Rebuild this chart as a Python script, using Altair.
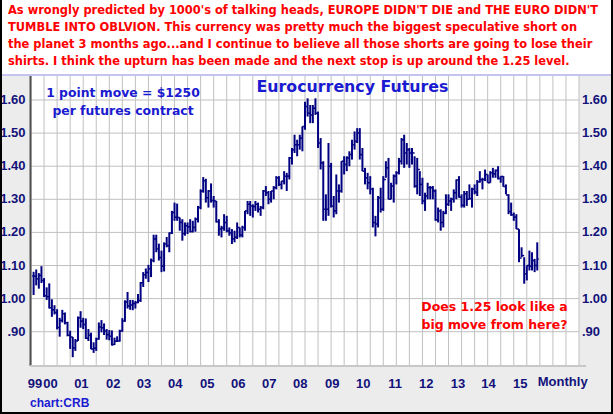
import altair as alt
import pandas as pd

# month index: 0 = Jan 1999 ; first bar = Jul 1999
first_month = 6

highs = [
    1.081, 1.088, 1.077, 1.098, 1.062, 1.034,
    1.046, 0.998, 0.980, 0.968, 0.942, 0.966, 0.958, 0.930, 0.903, 0.884, 0.878, 0.946,
    0.962, 0.942, 0.940, 0.908, 0.897, 0.868, 0.882, 0.928, 0.935, 0.925, 0.908, 0.905,
    0.904, 0.882, 0.886, 0.906, 0.941, 0.995, 1.020, 0.996, 0.996, 0.993, 1.014, 1.050,
    1.080, 1.091, 1.102, 1.121, 1.193, 1.193, 1.166, 1.145, 1.170, 1.186, 1.200, 1.265,
    1.290, 1.287, 1.245, 1.240, 1.230, 1.230, 1.240, 1.235, 1.245, 1.280, 1.330, 1.367,
    1.362, 1.328, 1.348, 1.310, 1.295, 1.240, 1.220, 1.255, 1.250, 1.215, 1.210, 1.205,
    1.230, 1.215, 1.220, 1.265, 1.295, 1.295, 1.285, 1.295, 1.290, 1.280, 1.328, 1.340,
    1.325, 1.325, 1.340, 1.370, 1.370, 1.355, 1.385, 1.380, 1.428, 1.455, 1.495, 1.480,
    1.495, 1.520, 1.595, 1.605, 1.585, 1.585, 1.605, 1.565, 1.485, 1.415, 1.315, 1.470,
    1.410, 1.310, 1.375, 1.345, 1.415, 1.430, 1.430, 1.445, 1.480, 1.505, 1.515, 1.515,
    1.455, 1.395, 1.380, 1.370, 1.335, 1.250, 1.310, 1.335, 1.370, 1.415, 1.425, 1.350,
    1.375, 1.385, 1.425, 1.485, 1.495, 1.470, 1.455, 1.455, 1.430, 1.425, 1.385, 1.365,
    1.320, 1.350, 1.340, 1.340, 1.330, 1.275, 1.270, 1.265, 1.315, 1.315, 1.305, 1.330,
    1.360, 1.370, 1.315, 1.325, 1.325, 1.345, 1.335, 1.345, 1.358, 1.385, 1.365, 1.390,
    1.375, 1.385, 1.395, 1.390, 1.400, 1.370, 1.370, 1.345, 1.315, 1.290, 1.260, 1.255,
    1.210, 1.155, 1.125, 1.100, 1.145, 1.140, 1.120, 1.170,
]
lows = [
    1.011, 1.040, 1.030, 1.047, 1.005, 0.996,
    0.970, 0.945, 0.952, 0.907, 0.885, 0.928, 0.922, 0.886, 0.848, 0.823, 0.842, 0.872,
    0.912, 0.908, 0.878, 0.872, 0.847, 0.836, 0.842, 0.876, 0.898, 0.890, 0.876, 0.874,
    0.858, 0.860, 0.869, 0.870, 0.900, 0.930, 0.970, 0.966, 0.965, 0.970, 0.986, 0.990,
    1.035, 1.060, 1.050, 1.065, 1.110, 1.140, 1.115, 1.080, 1.082, 1.155, 1.140, 1.195,
    1.235, 1.235, 1.205, 1.175, 1.190, 1.195, 1.200, 1.200, 1.202, 1.230, 1.270, 1.320,
    1.290, 1.275, 1.290, 1.275, 1.230, 1.190, 1.185, 1.205, 1.200, 1.190, 1.165, 1.170,
    1.180, 1.185, 1.185, 1.205, 1.255, 1.250, 1.245, 1.265, 1.260, 1.250, 1.270, 1.310,
    1.285, 1.290, 1.300, 1.330, 1.340, 1.330, 1.345, 1.325, 1.360, 1.405, 1.440, 1.430,
    1.450, 1.445, 1.510, 1.550, 1.530, 1.530, 1.555, 1.455, 1.390, 1.235, 1.235, 1.250,
    1.275, 1.245, 1.255, 1.290, 1.320, 1.375, 1.385, 1.400, 1.420, 1.450, 1.470, 1.420,
    1.385, 1.345, 1.330, 1.315, 1.215, 1.188, 1.215, 1.260, 1.265, 1.365, 1.300, 1.300,
    1.290, 1.345, 1.375, 1.405, 1.395, 1.405, 1.395, 1.405, 1.335, 1.315, 1.310, 1.285,
    1.265, 1.300, 1.300, 1.300, 1.235, 1.230, 1.205, 1.215, 1.255, 1.280, 1.265, 1.290,
    1.300, 1.305, 1.275, 1.275, 1.280, 1.300, 1.275, 1.315, 1.310, 1.350, 1.330, 1.355,
    1.350, 1.350, 1.365, 1.365, 1.360, 1.350, 1.338, 1.315, 1.255, 1.250, 1.235, 1.210,
    1.110, 1.125, 1.045, 1.055, 1.085, 1.085, 1.080, 1.085,
]
closes = [
    1.068, 1.060, 1.070, 1.055, 1.009, 1.006,
    0.972, 0.966, 0.958, 0.913, 0.934, 0.954, 0.927, 0.889, 0.884, 0.851, 0.872, 0.942,
    0.932, 0.922, 0.880, 0.889, 0.848, 0.850, 0.878, 0.914, 0.912, 0.902, 0.891, 0.886,
    0.861, 0.871, 0.872, 0.902, 0.932, 0.990, 0.978, 0.981, 0.985, 0.988, 0.994, 1.048,
    1.072, 1.079, 1.090, 1.115, 1.180, 1.150, 1.124, 1.098, 1.165, 1.160, 1.198, 1.260,
    1.246, 1.245, 1.230, 1.197, 1.220, 1.217, 1.203, 1.215, 1.240, 1.275, 1.325, 1.356,
    1.305, 1.325, 1.296, 1.295, 1.232, 1.210, 1.213, 1.230, 1.205, 1.199, 1.180, 1.185,
    1.215, 1.192, 1.215, 1.265, 1.285, 1.280, 1.278, 1.285, 1.270, 1.275, 1.325, 1.320,
    1.300, 1.325, 1.335, 1.365, 1.345, 1.355, 1.370, 1.370, 1.425, 1.450, 1.465, 1.465,
    1.485, 1.520, 1.580, 1.560, 1.555, 1.575, 1.560, 1.470, 1.410, 1.270, 1.270, 1.400,
    1.280, 1.265, 1.325, 1.325, 1.415, 1.405, 1.425, 1.435, 1.465, 1.475, 1.500, 1.435,
    1.385, 1.365, 1.350, 1.330, 1.230, 1.225, 1.305, 1.270, 1.360, 1.395, 1.300, 1.340,
    1.370, 1.380, 1.415, 1.480, 1.440, 1.450, 1.440, 1.440, 1.340, 1.390, 1.345, 1.295,
    1.310, 1.335, 1.335, 1.325, 1.238, 1.265, 1.230, 1.258, 1.285, 1.295, 1.300, 1.320,
    1.358, 1.306, 1.282, 1.317, 1.300, 1.302, 1.330, 1.322, 1.353, 1.359, 1.360, 1.375,
    1.350, 1.380, 1.377, 1.387, 1.363, 1.369, 1.339, 1.313, 1.263, 1.253, 1.246, 1.210,
    1.123, 1.130, 1.075, 1.100, 1.098, 1.115, 1.100, 1.120,
]

y_ticks = [0.90, 1.00, 1.10, 1.20, 1.30, 1.40, 1.50, 1.60]
y_labels = [".90", "1.00", "1.10", "1.20", "1.30", "1.40", "1.50", "1.60"]
x_grid = list(range(5, 216, 5))  # vertical grid every 5 months
x_labels = ["99", "00", "01", "02", "03", "04", "05", "06", "07", "08",
            "09", "10", "11", "12", "13", "14", "15"]
x_label_pos = [6.5, 12.5, 24.3, 36.5, 48.3, 60.3, 72.5, 84.4, 96.3, 108.2,
               120.4, 132.3, 144.5, 156.5, 168.6, 180.3, 192.5]

top_lines = [
    "As wrongly predicted by 1000's of talking heads, EUROPE DIDN'T DIE and THE EURO DIDN'T",
    "TUMBLE INTO OBLVION. This currency was pretty much the biggest speculative short on",
    "the planet 3 months ago...and I continue to believe all those shorts are going to lose their",
    "shirts. I think the upturn has been made and the next stop is up around the 1.25 level.",
]
note_lines = ["1 point move = $1250", "per futures contract"]
question_lines = ["Does 1.25 look like a", "big move from here?"]
title_text = "Eurocurrency Futures"

n = len(highs)
assert len(lows) == n and len(closes) == n
months = [first_month + i for i in range(n)]
opens = [closes[0]] + closes[:-1]
df = pd.DataFrame({"m": months, "high": highs, "low": lows, "close": closes, "open": opens})
df["mr"] = df["m"] + 0.55
df["ml"] = df["m"] - 0.55

FONT = "Liberation Sans"
WIDE = "DejaVu Sans"
NAVY = "#000080"
LABEL = "#12127a"
BLUE = "#1a1ad0"
RED = "#ff0000"
GRID = "#c0c0c0"

xscale = alt.Scale(domain=[5, 215], nice=False, zero=False)
yscale = alt.Scale(domain=[0.7964, 1.6755], nice=False, zero=False)

one = pd.DataFrame({"a": [0]})

vgrid = alt.Chart(pd.DataFrame({"g": x_grid})).mark_rule(color=GRID, strokeWidth=1).encode(
    x=alt.X("g:Q", scale=xscale, axis=None), y=alt.value(0), y2=alt.value(291)
)
hgrid = alt.Chart(pd.DataFrame({"v": y_ticks})).mark_rule(color=GRID, strokeWidth=1).encode(
    y=alt.Y("v:Q", scale=yscale, axis=None), x=alt.value(0), x2=alt.value(548)
)
left_axis = alt.Chart(one).mark_rule(color="#505050", strokeWidth=2).encode(
    x=alt.value(-0.5), y=alt.value(0), y2=alt.value(291)
)
bottom_axis = alt.Chart(one).mark_rule(color="#c8c8c8", strokeWidth=2).encode(
    x=alt.value(-1), x2=alt.value(555), y=alt.value(291)
)

# top white text panel
top_panel = alt.Chart(one).mark_rect(color="white").encode(
    x=alt.value(-31), x2=alt.value(582), y=alt.value(-75), y2=alt.value(0)
)
top_line = alt.Chart(one).mark_rule(color="#c4c4ee", strokeWidth=2).encode(
    x=alt.value(-31), x2=alt.value(582), y=alt.value(0)
)
border_l = alt.Chart(one).mark_rule(color="black", strokeWidth=2).encode(
    x=alt.value(-30), y=alt.value(-75), y2=alt.value(339)
)
border_r = alt.Chart(one).mark_rule(color="black", strokeWidth=2).encode(
    x=alt.value(581), y=alt.value(-75), y2=alt.value(339)
)
border_b = alt.Chart(one).mark_rule(color="black", strokeWidth=2).encode(
    x=alt.value(-31), x2=alt.value(582), y=alt.value(338)
)

bars = alt.Chart(df).mark_rule(color=NAVY, strokeWidth=2).encode(
    x=alt.X("m:Q", scale=xscale, axis=None),
    y=alt.Y("low:Q", scale=yscale, axis=None),
    y2="high:Q",
)
close_ticks = alt.Chart(df).mark_rule(color=NAVY, strokeWidth=1.5).encode(
    x=alt.X("m:Q", axis=None), x2="mr:Q", y=alt.Y("close:Q", axis=None)
)
open_ticks = alt.Chart(df).mark_rule(color=NAVY, strokeWidth=1.5).encode(
    x=alt.X("ml:Q", axis=None), x2="m:Q", y=alt.Y("open:Q", axis=None)
)

ylab_df = pd.DataFrame({"v": y_ticks, "lab": y_labels})
left_labels = alt.Chart(ylab_df).mark_text(
    font=FONT, fontSize=13, fontWeight="bold", color=LABEL, align="right", baseline="middle"
).encode(y=alt.Y("v:Q", axis=None), x=alt.value(-5.5), text="lab:N")
right_labels = alt.Chart(ylab_df).mark_text(
    font=FONT, fontSize=13, fontWeight="bold", color=LABEL, align="left", baseline="middle"
).encode(y=alt.Y("v:Q", axis=None), x=alt.value(551), text="lab:N")

bottom_labels = alt.Chart(pd.DataFrame({"p": x_label_pos, "lab": x_labels})).mark_text(
    font=FONT, fontSize=13, fontWeight="bold", color=LABEL, align="center", baseline="alphabetic"
).encode(x=alt.X("p:Q", axis=None), y=alt.value(312.7), text="lab:N")

monthly = alt.Chart(one).mark_text(
    font=FONT, fontSize=13, fontWeight="bold", color=LABEL, align="center", baseline="alphabetic"
).encode(x=alt.value(531.7), y=alt.value(311.4), text=alt.value("Monthly"))

credit = alt.Chart(one).mark_text(
    font=FONT, fontSize=12, fontWeight="bold", color=BLUE, align="left", baseline="alphabetic"
).encode(x=alt.value(-1), y=alt.value(332.3), text=alt.value("chart:CRB"))

top_text = alt.Chart(one).mark_text(
    font=WIDE, fontSize=11.45, fontWeight="bold", color=RED, align="left",
    baseline="alphabetic", lineHeight=17
).encode(x=alt.value(-23), y=alt.value(-60.8), text=alt.value(top_lines))

title = alt.Chart(one).mark_text(
    font=WIDE, fontSize=15.8, fontWeight="bold", color=BLUE, align="center", baseline="alphabetic"
).encode(x=alt.value(321.5), y=alt.value(17.0), text=alt.value(title_text))

note = alt.Chart(one).mark_text(
    font=WIDE, fontSize=12.4, fontWeight="bold", color=BLUE, align="center",
    baseline="alphabetic", lineHeight=18.7
).encode(x=alt.value(92), y=alt.value(21.5), text=alt.value(note_lines))

question = alt.Chart(one).mark_text(
    font=WIDE, fontSize=12.5, fontWeight="bold", color=RED, align="center",
    baseline="alphabetic", lineHeight=18
).encode(x=alt.value(463.5), y=alt.value(235.5), text=alt.value(question_lines))

chart = alt.layer(
    vgrid, hgrid, bars, close_ticks, open_ticks, left_axis, bottom_axis,
    top_panel, top_line, left_labels, right_labels, bottom_labels,
    monthly, credit, top_text, title, note, question, border_l, border_r, border_b
).properties(
    width=548, height=291,
    autosize=alt.AutoSizeParams(type="none"),
    padding={"left": 31, "top": 75, "right": 34, "bottom": 48},
    background="#ececec",
).configure_view(fill="white", stroke=None)

chart.save("out.html", embed_options={"renderer": "svg", "actions": False})
